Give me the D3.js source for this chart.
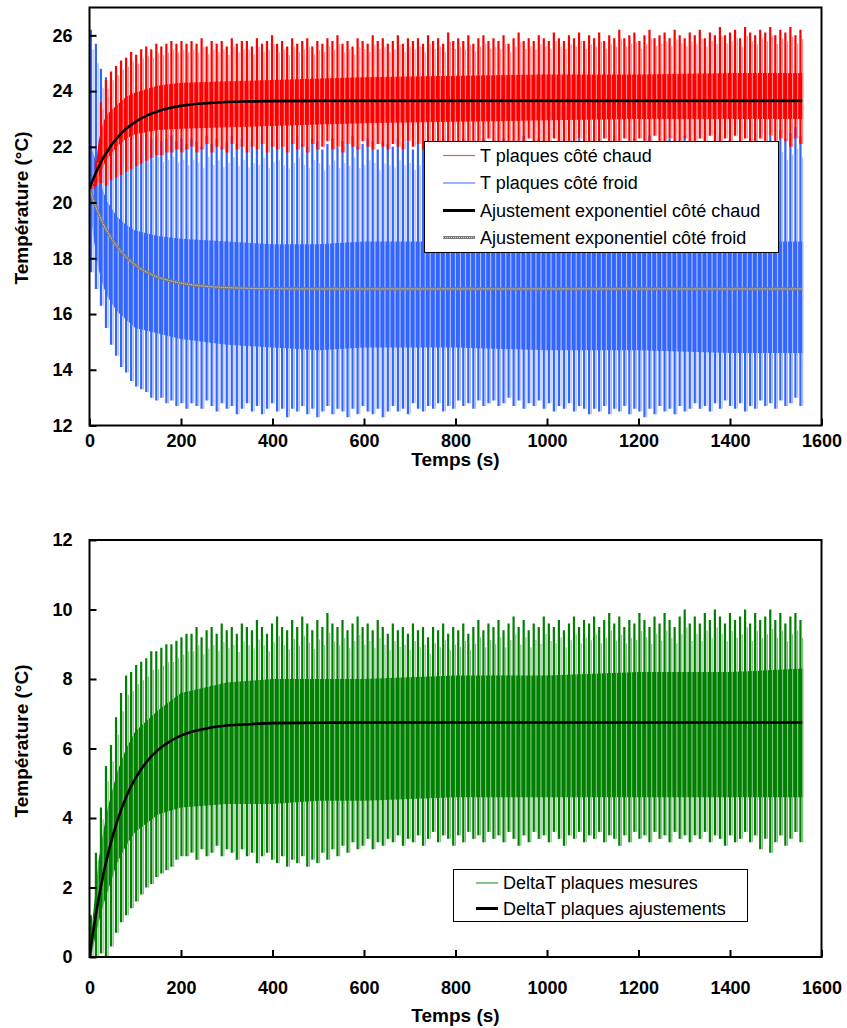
<!DOCTYPE html>
<html><head><meta charset="utf-8">
<script src="https://cdn.jsdelivr.net/npm/d3@7"></script>
<style>
body{margin:0;background:#fff;}
svg{display:block;}
text{font-family:Arial,"Liberation Sans",sans-serif;fill:#000;}
</style>
</head><body>
<svg id="c" width="847" height="1028"></svg>
<script>
// ---------- DATA ----------
const xTicks=[0,200,400,600,800,1000,1200,1400,1600];
const yTicksTop=[12,14,16,18,20,22,24,26];
const yTicksBot=[0,2,4,6,8,10,12];

// time of each measured cycle peak (s)
const cycleTimes=[3,14,25,36,47,58,69,80,91,102,
113,124,135,146,157,168,179,190,201,212,
223,234,245,256,267,278,289,300,311,322,
333,344,355,366,377,388,399,410,421,432,
443,454,465,476,487,498,509,520,531,542,
553,564,575,586,597,608,619,630,641,652,
663,674,685,696,707,718,729,740,751,762,
773,784,795,806,817,828,839,850,861,872,
883,894,905,916,927,938,949,960,971,982,
993,1004,1015,1026,1037,1048,1059,1070,1081,1092,
1103,1114,1125,1136,1147,1158,1169,1180,1191,1202,
1213,1224,1235,1246,1257,1268,1279,1290,1301,1312,
1323,1334,1345,1356,1367,1378,1389,1400,1411,1422,
1433,1444,1455,1466,1477,1488,1499,1510,1521,1532,
1543,1554];

// T plaques côté chaud : cycle maxima / minima
const hotHi=[20.6,21.5,23.6,24.4,24.7,24.9,25.1,25.2,25.4,25.3,25.5,25.6,25.5,25.7,25.6,25.7,25.8,25.7,25.8,25.7,
25.8,25.7,25.9,25.6,25.8,25.7,25.8,25.6,25.9,25.7,25.8,25.8,25.6,25.9,25.7,25.8,26.0,25.7,25.8,25.6,
25.9,25.7,25.8,25.9,25.6,25.8,25.7,25.9,25.8,26.0,25.7,25.8,25.6,25.9,25.8,25.7,26.0,25.8,25.9,25.7,
25.8,26.0,25.7,25.9,25.8,25.9,25.7,26.0,25.8,25.9,25.7,26.1,25.8,25.9,25.8,26.0,25.7,25.9,26.0,25.8,
25.9,25.8,26.0,25.7,25.9,26.1,25.8,25.9,25.8,26.0,25.9,25.8,26.1,25.9,25.8,26.0,25.9,26.1,25.8,26.0,
25.9,26.1,25.8,26.0,25.9,26.2,25.9,26.0,26.1,25.8,26.0,26.2,25.9,26.0,26.1,25.9,26.2,26.0,25.9,26.1,
26.0,26.2,25.9,26.1,26.0,26.3,26.0,26.1,26.2,25.9,26.3,26.1,26.0,26.2,26.1,26.3,26.0,26.2,26.1,26.3,26.0,26.2];
const hotLo=[20.5,20.6,20.7,20.6,20.8,20.9,21.0,21.1,21.2,21.3,21.4,21.5,21.6,21.7,21.7,21.8,21.8,21.9,21.8,21.9,
22.0,21.8,21.9,22.1,21.8,22.0,21.9,21.8,22.1,21.9,22.0,21.8,22.0,21.9,22.1,21.8,22.0,21.9,22.0,21.8,
22.1,21.9,22.0,21.8,22.1,21.9,22.0,22.2,21.9,22.0,21.8,22.1,22.0,21.9,22.2,22.0,21.9,22.1,22.0,21.9,
22.1,22.0,21.9,22.2,22.0,22.1,21.9,22.0,22.2,22.1,21.9,22.0,22.2,22.1,22.0,21.9,22.2,22.0,22.1,22.3,
22.0,22.1,22.2,21.9,22.1,22.0,22.2,22.3,22.0,22.1,22.2,22.0,22.3,22.1,22.2,22.0,22.1,22.3,22.2,22.0,
22.2,22.1,22.3,22.0,22.2,22.1,22.3,22.2,22.0,22.3,22.1,22.2,22.4,22.1,22.2,22.3,22.0,22.2,22.3,22.1,
22.2,22.3,22.1,22.4,22.2,22.1,22.3,22.2,22.4,22.1,22.3,22.2,22.0,22.3,22.2,22.4,22.1,22.3,22.2,22.0,22.3,22.1];

// T plaques côté froid : cycle maxima / minima
const coldHi=[26.2,25.7,24.8,24.5,23.8,23.3,23.0,22.8,22.6,22.5,22.4,22.5,22.3,22.4,22.2,22.3,22.4,22.2,22.3,22.1,
22.3,22.2,22.0,22.4,22.1,22.3,22.0,22.2,22.4,22.1,22.3,22.0,22.2,22.1,22.4,22.0,22.2,22.3,22.1,22.0,
22.2,22.4,22.1,22.0,22.3,22.2,21.9,22.1,22.3,22.0,22.2,22.1,22.4,22.0,22.1,22.3,22.2,21.9,22.2,22.1,
22.0,22.3,22.1,22.2,21.9,22.1,22.3,22.0,22.2,22.1,22.4,22.0,22.2,22.1,22.3,21.9,22.2,22.0,22.3,22.1,
22.2,22.0,22.3,22.1,21.9,22.2,22.4,22.1,22.0,22.3,22.1,22.2,22.0,22.4,22.1,22.2,22.0,22.3,22.1,22.2,
22.0,22.3,22.1,22.2,22.4,22.0,22.2,22.1,22.3,22.0,22.2,22.4,22.1,22.2,22.0,22.3,22.1,22.2,22.4,22.1,
22.2,22.0,22.3,22.1,22.2,22.4,22.0,22.3,22.1,22.2,22.0,22.3,22.5,22.1,22.2,22.4,22.0,22.6,22.3,22.5,22.7,22.4];
const coldLo=[17.5,16.9,16.3,15.5,14.9,14.5,14.1,13.9,13.6,13.4,13.3,13.2,13.0,12.9,13.0,12.8,12.9,12.7,12.8,12.6,
12.8,12.7,12.6,12.9,12.7,12.5,12.8,12.6,12.7,12.4,12.6,12.8,12.5,12.7,12.4,12.6,12.8,12.5,12.6,12.3,
12.6,12.5,12.7,12.4,12.6,12.3,12.5,12.7,12.4,12.6,12.5,12.3,12.6,12.4,12.7,12.5,12.4,12.6,12.3,12.5,
12.7,12.5,12.6,12.4,12.8,12.6,12.5,12.7,12.6,12.8,12.5,12.7,12.6,12.9,12.7,12.8,12.6,12.9,12.7,12.8,
12.9,12.7,12.8,13.0,12.7,12.9,12.6,12.8,12.7,12.9,12.6,12.8,12.5,12.7,12.6,12.8,12.5,12.7,12.6,12.4,
12.6,12.5,12.7,12.4,12.6,12.5,12.7,12.4,12.6,12.5,12.3,12.6,12.4,12.7,12.5,12.6,12.4,12.7,12.5,12.6,
12.8,12.6,12.7,12.5,12.8,12.6,12.9,12.7,12.6,12.8,12.5,12.7,12.6,12.9,12.7,12.8,12.6,12.9,12.7,12.8,13.0,12.7];

// DeltaT plaques mesures : cycle maxima / minima
const dtHi=[1.2,3.0,4.3,5.5,6.1,6.9,7.6,8.1,8.2,8.4,8.5,8.6,8.8,8.8,8.9,9.0,9.0,9.1,9.2,9.3,
9.3,9.5,9.2,9.4,9.5,9.3,9.6,9.4,9.5,9.3,9.6,9.5,9.4,9.7,9.5,9.3,9.6,9.8,9.5,9.4,
9.7,9.5,9.8,9.6,9.4,9.7,9.5,9.9,9.6,9.5,9.7,9.4,9.6,9.8,9.5,9.6,9.4,9.7,9.5,9.3,
9.6,9.4,9.5,9.3,9.6,9.4,9.5,9.2,9.5,9.4,9.6,9.3,9.5,9.4,9.6,9.3,9.5,9.7,9.4,9.6,
9.5,9.7,9.4,9.6,9.8,9.5,9.7,9.4,9.6,9.5,9.8,9.6,9.5,9.7,9.4,9.6,9.8,9.5,9.7,9.6,
9.8,9.5,9.7,9.9,9.6,9.8,9.5,9.7,9.6,9.9,9.7,9.5,9.8,9.6,9.9,9.7,9.5,9.8,10.0,9.6,
9.8,9.6,9.9,9.7,10.0,9.8,9.6,9.9,9.7,9.8,10.0,9.6,9.9,9.7,9.8,10.0,9.7,9.9,9.6,9.8,9.9,9.7];
const dtLo=[0.0,0.0,0.1,0.0,0.3,0.7,1.0,1.2,1.4,1.6,1.8,2.0,2.1,2.3,2.4,2.5,2.6,2.8,2.9,2.9,
3.0,2.8,3.1,2.9,3.0,3.2,2.9,3.1,3.0,2.8,3.1,2.9,3.0,2.7,2.9,3.0,2.8,2.7,2.9,2.6,
2.8,2.7,2.9,2.6,2.8,2.7,3.0,2.8,3.1,2.9,3.2,3.0,3.3,3.1,3.2,3.4,3.1,3.3,3.2,3.4,
3.3,3.5,3.2,3.4,3.3,3.5,3.2,3.4,3.6,3.3,3.5,3.4,3.2,3.5,3.3,3.6,3.4,3.5,3.3,3.6,
3.4,3.5,3.3,3.6,3.4,3.2,3.5,3.3,3.6,3.4,3.5,3.3,3.6,3.4,3.2,3.5,3.4,3.6,3.3,3.5,
3.4,3.6,3.3,3.5,3.4,3.2,3.5,3.3,3.6,3.4,3.5,3.3,3.6,3.4,3.5,3.3,3.6,3.4,3.5,3.3,
3.5,3.4,3.6,3.3,3.5,3.4,3.2,3.5,3.3,3.4,3.6,3.3,3.5,3.1,3.4,3.0,3.3,3.5,3.2,3.4,3.6,3.3];

// dense band of the fast oscillation (upper / lower edge)
const bandTimes=[0,3,10,20,30,40,60,80,100,150,200,300,400,500,600,800,1000,1200,1400,1560];
const hotTop =[20.5,20.5,20.7,22.2,22.9,23.2,23.5,23.8,23.95,24.2,24.3,24.35,24.4,24.45,24.5,24.55,24.6,24.6,24.65,24.65];
const hotBot =[20.5,20.5,20.5,20.8,21.3,21.6,22.0,22.3,22.45,22.6,22.65,22.7,22.75,22.8,22.85,22.9,22.95,23.0,23.0,23.0];
const coldTop=[20.5,22.0,21.7,21.0,20.4,20.0,19.5,19.2,19.0,18.8,18.7,18.6,18.5,18.5,18.6,18.6,18.6,18.6,18.6,18.6];
const coldBot=[20.5,19.5,18.6,17.6,17.0,16.6,16.1,15.8,15.5,15.3,15.1,14.9,14.8,14.7,14.8,14.8,14.7,14.7,14.6,14.6];
const dtTop  =[0,0.6,1.5,2.8,3.6,4.3,5.3,6.0,6.5,7.1,7.6,7.9,8.0,8.0,8.0,8.1,8.1,8.2,8.2,8.3];
const dtBot  =[0,0,0.4,1.0,1.5,1.9,2.7,3.2,3.6,4.1,4.3,4.4,4.4,4.5,4.5,4.6,4.6,4.6,4.6,4.6];

// exponential fits
const fitTimes=[0,10,20,30,40,50,60,80,100,125,150,175,200,250,300,350,400,500,600,1558];
const fitHot =[20.50,20.92,21.28,21.60,21.87,22.11,22.31,22.65,22.89,23.12,23.28,23.39,23.47,23.56,23.61,23.63,23.64,23.65,23.65,23.65];
const fitCold=[20.50,20.02,19.60,19.24,18.93,18.66,18.43,18.05,17.76,17.50,17.32,17.20,17.11,17.00,16.95,16.92,16.91,16.90,16.90,16.90];
const fitDt  =[0,0.90,1.68,2.36,2.94,3.44,3.89,4.60,5.13,5.62,5.96,6.20,6.37,6.56,6.66,6.70,6.73,6.74,6.75,6.75];

const legendTop=["T plaques côté chaud","T plaques côté froid","Ajustement exponentiel côté chaud","Ajustement exponentiel côté froid"];
const legendBot=["DeltaT plaques mesures","DeltaT plaques ajustements"];

// ---------- DRAW ----------
const RED="#FF0000", BLUE="#3366FF", GREEN="#008000";
const svg=d3.select("#c");
const X0=89.5, X1=821.5;
const x=d3.scaleLinear().domain([0,1600]).range([X0,X1]);

function panel(id, yDomain, yRange){
  const y=d3.scaleLinear().domain(yDomain).range(yRange);
  const top=yRange[1], bot=yRange[0];
  const g=svg.append("g");
  g.append("clipPath").attr("id","clip"+id).append("rect")
    .attr("x",X0).attr("y",top).attr("width",X1-X0).attr("height",bot-top);
  const plot=g.append("g").attr("clip-path","url(#clip"+id+")");
  return {y,g,plot,top,bot};
}

function drawSignal(P, top, bot, hi, lo, color, light){
  const area=d3.area().x((d,i)=>x(bandTimes[i])).y0((d,i)=>P.y(bot[i])).y1((d,i)=>P.y(top[i]));
  P.plot.append("path").attr("d",area(top)).attr("fill",color);
  // lighter companion stroke of each cycle
  P.plot.append("g").selectAll("line").data(cycleTimes).join("line")
    .attr("x1",d=>x(d)+2.2).attr("x2",d=>x(d)+2.2)
    .attr("y1",(d,i)=>P.y(lo[i])).attr("y2",(d,i)=>P.y(hi[i]-0.08*(hi[i]-lo[i])))
    .attr("stroke",light).attr("stroke-width",1.2);
  P.plot.append("g").selectAll("line").data(cycleTimes).join("line")
    .attr("x1",d=>x(d)).attr("x2",d=>x(d))
    .attr("y1",(d,i)=>P.y(lo[i])).attr("y2",(d,i)=>P.y(hi[i]))
    .attr("stroke",color).attr("stroke-width",2.2);
}
function drawFit(P, vals, color, w){
  const line=d3.line().x((d,i)=>x(fitTimes[i])).y(d=>P.y(d)).curve(d3.curveMonotoneX);
  return P.plot.append("path").attr("d",line(vals)).attr("fill","none")
    .attr("stroke",color).attr("stroke-width",w);
}
function frame(P, yTicks, tickPad, titleY, ylabY){
  const ax=P.g.append("g").attr("transform",`translate(0,${P.bot})`)
    .call(d3.axisBottom(x).tickValues(xTicks).tickSize(-7).tickPadding(tickPad).tickFormat(d3.format("d")));
  const ay=P.g.append("g").attr("transform",`translate(${X0},0)`)
    .call(d3.axisLeft(P.y).tickValues(yTicks).tickSize(-7).tickPadding(17).tickFormat(d3.format("d")));
  [ax,ay].forEach(a=>{
    a.select(".domain").remove();
    a.selectAll(".tick line").attr("stroke","#000").attr("stroke-width",2);
    a.selectAll(".tick text").attr("font-size",18).attr("font-weight","bold")
      .attr("font-family","Arial, 'Liberation Sans', sans-serif").attr("fill","#000");
  });
  P.g.append("rect").attr("x",X0).attr("y",P.top).attr("width",X1-X0).attr("height",P.bot-P.top)
    .attr("fill","none").attr("stroke","#000").attr("stroke-width",2);
  P.g.append("text").attr("x",(X0+X1)/2).attr("y",titleY).attr("text-anchor","middle")
    .attr("font-size",19).attr("font-weight","bold").text("Temps (s)");
  P.g.append("text").attr("transform",`translate(28,${ylabY}) rotate(-90)`)
    .attr("text-anchor","middle").attr("font-size",19).attr("font-weight","bold").text("Température (°C)");
}

// ---- top chart ----
const A=panel("A",[12,27],[425.5,7.5]);
drawSignal(A,coldTop,coldBot,coldHi,coldLo,BLUE,"#a8bcff");
drawSignal(A,hotTop,hotBot,hotHi,hotLo,RED,"#ff8c8c");
drawFit(A,fitCold,"#7a7a7a",3.2);
drawFit(A,fitCold,"#d8d8d8",1).attr("stroke-dasharray","1,1");
drawFit(A,fitHot,"#000",2.6);
frame(A,yTicksTop,8.5,466,208);

// legend top
const LA=A.g.append("g");
LA.append("rect").attr("x",424.5).attr("y",141.5).attr("width",354).attr("height",111)
  .attr("fill","#fff").attr("stroke","#000").attr("stroke-width",1);
const lrows=[155.5,183,210.5,237.5];
const lstyle=[{c:"#ff5050",w:1.2},{c:"#5580ff",w:1.2},{c:"#000",w:3},{c:"#7a7a7a",w:3,dots:true}];
legendTop.forEach((t,i)=>{
  LA.append("line").attr("x1",443).attr("x2",475).attr("y1",lrows[i]).attr("y2",lrows[i])
    .attr("stroke",lstyle[i].c).attr("stroke-width",lstyle[i].w);
  if(lstyle[i].dots) LA.append("line").attr("x1",443).attr("x2",475).attr("y1",lrows[i]).attr("y2",lrows[i])
    .attr("stroke","#d8d8d8").attr("stroke-width",1).attr("stroke-dasharray","1,1");
  LA.append("text").attr("x",480).attr("y",lrows[i]).attr("dy","0.35em").attr("font-size",18).text(t);
});

// ---- bottom chart ----
const B=panel("B",[0,12],[957,540]);
drawSignal(B,dtTop,dtBot,dtHi,dtLo,GREEN,"#7fbf7f");
drawFit(B,fitDt,"#000",2.6);
frame(B,yTicksBot,24,1022,741);

const LB=B.g.append("g");
LB.append("rect").attr("x",453.5).attr("y",869.5).attr("width",294).attr("height",52)
  .attr("fill","#fff").attr("stroke","#000").attr("stroke-width",1);
const brows=[883,908.5];
const bstyle=[{c:"#3a9a3a",w:1.2},{c:"#000",w:3}];
legendBot.forEach((t,i)=>{
  LB.append("line").attr("x1",476).attr("x2",498).attr("y1",brows[i]).attr("y2",brows[i])
    .attr("stroke",bstyle[i].c).attr("stroke-width",bstyle[i].w);
  LB.append("text").attr("x",503).attr("y",brows[i]).attr("dy","0.35em").attr("font-size",18).text(t);
});
</script>
</body></html>
